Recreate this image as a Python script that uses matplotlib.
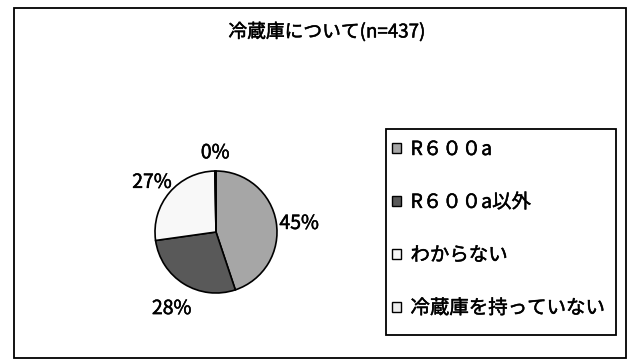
import matplotlib
matplotlib.use("Agg")
import matplotlib.pyplot as plt
import matplotlib.patheffects as pe
from matplotlib.patches import Rectangle, Patch
from matplotlib.transforms import ScaledTranslation

plt.rcParams['font.family'] = ['Noto Sans CJK JP', 'DejaVu Sans']

title = "冷蔵庫について(n=437)"
categories = ["R６００a", "R６００a以外", "わからない", "冷蔵庫を持っていない"]
values = [45, 28, 27, 0.3]
colors = ["#A6A6A6", "#595959", "#F8F8F8", "#EDEDED"]

W, H = 630, 360
fig = plt.figure(figsize=(W / 100, H / 100), dpi=100)
fig.patch.set_facecolor("white")
thick = [pe.withStroke(linewidth=0.35, foreground="black")]

# outer frame
fig.patches.append(Rectangle((14 / W, 1 - 358 / H), 612 / W, 350 / H,
                             transform=fig.transFigure, fill=False,
                             edgecolor="black", linewidth=1.3))

fig.text(327 / W, 1 - 32 / H, title, ha="center", va="center",
         fontsize=13.5, path_effects=thick)

# pie axes: centre (216,232), radius 61 px
r = 61
span = 1.6
aw = 2 * span * r
ax = fig.add_axes([(216 - aw / 2) / W, (H - 232 - aw / 2) / H, aw / W, aw / H])
wedges, texts, autotexts = ax.pie(
    values, colors=colors, startangle=90, counterclock=False,
    autopct='%1.0f%%', pctdistance=1.38,
    wedgeprops=dict(edgecolor="black", linewidth=1.2),
    textprops=dict(fontsize=14))
shift = ScaledTranslation(0, -5 / 100, fig.dpi_scale_trans)
for t in autotexts:
    t.set_transform(t.get_transform() + shift)
    t.set_path_effects(thick)
ax.set_xlim(-span, span)
ax.set_ylim(-span, span)
ax.set_aspect("equal")
ax.axis("off")

# legend frame
fig.patches.append(Rectangle((386 / W, 1 - 335 / H), 230 / W, 206 / H,
                             transform=fig.transFigure, fill=False,
                             edgecolor="black", linewidth=1.3))
handles = [Patch(facecolor=c, edgecolor="black", linewidth=1.0) for c in colors]
leg = fig.legend(handles, categories, loc="upper left",
                 bbox_to_anchor=(392 / W, 1 - 139 / H), frameon=False,
                 prop=dict(size=14),
                 handlelength=0.45, handleheight=0.45,
                 handletextpad=0.5, labelspacing=1.64, borderpad=0,
                 borderaxespad=0.0)
for t in leg.get_texts():
    t.set_path_effects(thick)

fig.savefig("out.png", dpi=100)
